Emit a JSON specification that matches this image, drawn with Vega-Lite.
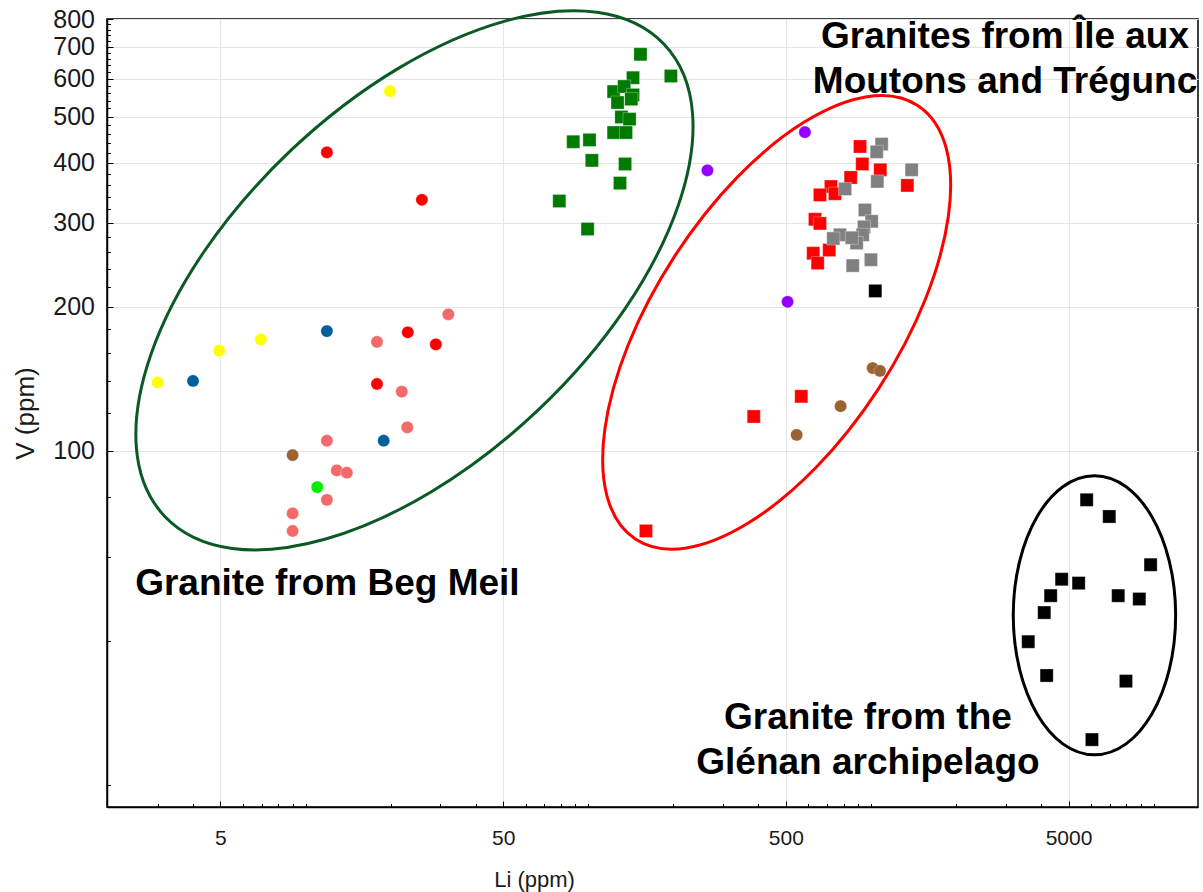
{
  "$schema": "https://vega.github.io/schema/vega-lite/v6.json",
  "width": 1091,
  "height": 788,
  "autosize": {"type": "none"},
  "padding": {"left": 107, "top": 19, "right": 5, "bottom": 85},
  "background": "white",
  "config": {"view": {"stroke": "#000", "strokeWidth": 1.5}, "font": "Liberation Sans"},
  "datasets": {
    "greenEllipse": [{"Li": 24.28, "V": 227.3}],
    "redEllipse": [{"Li": 464, "V": 185.7}],
    "blackEllipse": [{"Li": 6175, "V": 45.3}],
    "circles": [
      {"Li": 3.0, "V": 139, "group": "yellow"},
      {"Li": 4.95, "V": 162, "group": "yellow"},
      {"Li": 6.95, "V": 171, "group": "yellow"},
      {"Li": 19.9, "V": 565, "group": "yellow"},
      {"Li": 4.0, "V": 140, "group": "blue"},
      {"Li": 11.9, "V": 178, "group": "blue"},
      {"Li": 18.9, "V": 105, "group": "blue"},
      {"Li": 23.0, "V": 177, "group": "red"},
      {"Li": 28.9, "V": 167, "group": "red"},
      {"Li": 17.9, "V": 138, "group": "red"},
      {"Li": 11.9, "V": 421, "group": "red"},
      {"Li": 25.8, "V": 335, "group": "red"},
      {"Li": 17.9, "V": 169, "group": "salmon"},
      {"Li": 32.0, "V": 193, "group": "salmon"},
      {"Li": 21.9, "V": 133, "group": "salmon"},
      {"Li": 22.9, "V": 112, "group": "salmon"},
      {"Li": 11.9, "V": 105, "group": "salmon"},
      {"Li": 12.9, "V": 91, "group": "salmon"},
      {"Li": 14.0, "V": 90, "group": "salmon"},
      {"Li": 11.9, "V": 79, "group": "salmon"},
      {"Li": 9.0, "V": 74, "group": "salmon"},
      {"Li": 9.0, "V": 68, "group": "salmon"},
      {"Li": 9.0, "V": 98, "group": "brown"},
      {"Li": 1014, "V": 149, "group": "brown"},
      {"Li": 1076, "V": 147, "group": "brown"},
      {"Li": 781, "V": 124, "group": "brown"},
      {"Li": 546, "V": 108, "group": "brown"},
      {"Li": 11.0, "V": 84, "group": "lime"},
      {"Li": 264, "V": 386, "group": "purple"},
      {"Li": 584, "V": 464, "group": "purple"},
      {"Li": 507, "V": 205, "group": "purple"}
    ],
    "squares": [
      {"Li": 153, "V": 675, "group": "green"},
      {"Li": 196, "V": 608, "group": "green"},
      {"Li": 144, "V": 603, "group": "green"},
      {"Li": 123, "V": 564, "group": "green"},
      {"Li": 134, "V": 578, "group": "green"},
      {"Li": 144, "V": 555, "group": "green"},
      {"Li": 127, "V": 535, "group": "green"},
      {"Li": 142, "V": 544, "group": "green"},
      {"Li": 131, "V": 499, "group": "green"},
      {"Li": 140, "V": 494, "group": "green"},
      {"Li": 123, "V": 463, "group": "green"},
      {"Li": 136, "V": 463, "group": "green"},
      {"Li": 88.5, "V": 443, "group": "green"},
      {"Li": 101, "V": 447, "group": "green"},
      {"Li": 103, "V": 405, "group": "green"},
      {"Li": 135, "V": 398, "group": "green"},
      {"Li": 129.5, "V": 363, "group": "green"},
      {"Li": 79, "V": 333, "group": "green"},
      {"Li": 99.5, "V": 291, "group": "green"},
      {"Li": 915, "V": 433, "group": "red square"},
      {"Li": 932, "V": 398, "group": "red square"},
      {"Li": 1079, "V": 387, "group": "red square"},
      {"Li": 848, "V": 373, "group": "red square"},
      {"Li": 1345, "V": 359, "group": "red square"},
      {"Li": 722, "V": 357, "group": "red square"},
      {"Li": 660, "V": 343, "group": "red square"},
      {"Li": 746, "V": 345, "group": "red square"},
      {"Li": 634, "V": 305, "group": "red square"},
      {"Li": 660, "V": 299, "group": "red square"},
      {"Li": 625, "V": 259, "group": "red square"},
      {"Li": 712, "V": 263, "group": "red square"},
      {"Li": 648, "V": 247, "group": "red square"},
      {"Li": 567, "V": 130, "group": "red square"},
      {"Li": 385, "V": 118, "group": "red square"},
      {"Li": 160, "V": 68, "group": "red square"},
      {"Li": 1091, "V": 438, "group": "gray"},
      {"Li": 1048, "V": 422, "group": "gray"},
      {"Li": 1393, "V": 387, "group": "gray"},
      {"Li": 1053, "V": 366, "group": "gray"},
      {"Li": 810, "V": 353, "group": "gray"},
      {"Li": 952, "V": 319, "group": "gray"},
      {"Li": 1006, "V": 302, "group": "gray"},
      {"Li": 945, "V": 294, "group": "gray"},
      {"Li": 935, "V": 283, "group": "gray"},
      {"Li": 777, "V": 283, "group": "gray"},
      {"Li": 736, "V": 278, "group": "gray"},
      {"Li": 890, "V": 272, "group": "gray"},
      {"Li": 856, "V": 279, "group": "gray"},
      {"Li": 1000, "V": 251, "group": "gray"},
      {"Li": 862, "V": 244, "group": "gray"},
      {"Li": 1036, "V": 216, "group": "black"},
      {"Li": 5794, "V": 79, "group": "black"},
      {"Li": 6966, "V": 72.9, "group": "black"},
      {"Li": 9755, "V": 57.8, "group": "black"},
      {"Li": 4727, "V": 53.9, "group": "black"},
      {"Li": 5428, "V": 52.9, "group": "black"},
      {"Li": 4322, "V": 49.8, "group": "black"},
      {"Li": 7493, "V": 49.8, "group": "black"},
      {"Li": 8897, "V": 49.0, "group": "black"},
      {"Li": 4102, "V": 45.9, "group": "black"},
      {"Li": 3601, "V": 39.9, "group": "black"},
      {"Li": 4183, "V": 33.9, "group": "black"},
      {"Li": 7980, "V": 33.0, "group": "black"},
      {"Li": 6050, "V": 24.9, "group": "black"}
    ],
    "labels": [
      {"label": "Granites from Île aux", "Li": 2980, "V": 735},
      {"label": "Moutons and Trégunc", "Li": 2980, "V": 592},
      {"label": "Granite from Beg Meil", "Li": 11.95, "V": 52.7},
      {"label": "Granite from the", "Li": 976, "V": 27.65},
      {"label": "Glénan archipelago", "Li": 976, "V": 22.27}
    ]
  },
  "layer": [
    {
      "data": {"name": "greenEllipse"},
      "mark": {
        "type": "point",
        "shape": "M 1 0 C 1 0.2882 0.5523 0.5218 0 0.5218 C -0.5523 0.5218 -1 0.2882 -1 0 C -1 -0.2882 -0.5523 -0.5218 0 -0.5218 C 0.5523 -0.5218 1 -0.2882 1 0 Z",
        "size": 472244,
        "angle": 316.65,
        "filled": false,
        "stroke": "#0b5a26",
        "strokeWidth": 3,
        "opacity": 1
      },
      "encoding": {
        "x": {"field": "Li", "type": "quantitative", "scale": {"type": "log", "domain": [1.985, 14350], "nice": false, "zero": false},
          "axis": {"orient": "bottom", "values": [3,4,6,7,8,9,10,20,30,40,60,70,80,90,100,200,300,400,600,700,800,900,1000,2000,3000,4000,6000,7000,8000,9000,10000], "labels": false, "domain": false, "grid": false, "ticks": true, "tickSize": -3.5, "tickColor": "#000", "tickWidth": 1, "title": null}},
        "y": {"field": "V", "type": "quantitative", "scale": {"type": "log", "domain": [18, 800], "nice": false, "zero": false},
          "axis": {"orient": "left", "values": [20,40,60,80,120,140,160,180,220,240,260,280,320,340,360,380,420,440,460,480,520,540,560,580,620,640,660,680,720,740,760,780], "labels": false, "domain": false, "grid": false, "ticks": true, "tickSize": -3.5, "tickColor": "#000", "tickWidth": 1, "title": null}}
      }
    },
    {
      "data": {"name": "redEllipse"},
      "mark": {
        "type": "point",
        "shape": "M 1 0 C 1 0.2596 0.5523 0.47 0 0.47 C -0.5523 0.47 -1 0.2596 -1 0 C -1 -0.2596 -0.5523 -0.47 0 -0.47 C 0.5523 -0.47 1 -0.2596 1 0 Z",
        "size": 267703,
        "angle": 303.02,
        "filled": false,
        "stroke": "#ff0000",
        "strokeWidth": 3,
        "opacity": 1
      },
      "encoding": {
        "x": {"field": "Li", "type": "quantitative", "scale": {"type": "log", "domain": [1.985, 14350], "nice": false, "zero": false},
          "axis": {"orient": "bottom", "values": [5, 50, 500, 5000], "labels": false, "domain": false, "grid": false, "ticks": true, "tickSize": -6, "tickColor": "#000", "tickWidth": 1, "title": null}},
        "y": {"field": "V", "type": "quantitative", "scale": {"type": "log", "domain": [18, 800], "nice": false, "zero": false},
          "axis": {"orient": "left", "values": [100, 200, 300, 400, 500, 600, 700, 800], "labels": false, "domain": false, "grid": false, "ticks": true, "tickSize": -6, "tickColor": "#000", "tickWidth": 1, "title": null}}
      }
    },
    {
      "data": {"name": "blackEllipse"},
      "mark": {
        "type": "point",
        "shape": "M 0.582 0 C 0.582 0.5523 0.3214 1 0 1 C -0.3214 1 -0.582 0.5523 -0.582 0 C -0.582 -0.5523 -0.3214 -1 0 -1 C 0.3214 -1 0.582 -0.5523 0.582 0 Z",
        "size": 77841,
        "angle": 0,
        "filled": false,
        "stroke": "#000000",
        "strokeWidth": 3,
        "opacity": 1
      },
      "encoding": {
        "x": {"field": "Li", "type": "quantitative", "scale": {"type": "log", "domain": [1.985, 14350], "nice": false, "zero": false}, "axis": null},
        "y": {"field": "V", "type": "quantitative", "scale": {"type": "log", "domain": [18, 800], "nice": false, "zero": false}, "axis": null}
      }
    },
    {
      "data": {"name": "circles"},
      "mark": {"type": "point", "shape": "circle", "filled": true, "size": 150, "opacity": 1, "stroke": "#ffffff", "strokeWidth": 0.6, "strokeOpacity": 0.5},
      "encoding": {
        "x": {"field": "Li", "type": "quantitative", "scale": {"type": "log", "domain": [1.985, 14350], "nice": false, "zero": false},
          "axis": {"orient": "bottom", "values": [5, 50, 500, 5000], "format": "d", "ticks": false, "grid": true, "gridColor": "#e4e4e4", "gridWidth": 1, "domain": true, "domainColor": "#000", "domainWidth": 1.5, "labelFont": "Liberation Sans", "labelFontSize": 21, "labelColor": "#1a1a1a", "labelBaseline": "middle", "labelPadding": 31, "labelFlush": false, "labelOverlap": false, "title": "Li (ppm)", "titleFont": "Liberation Sans", "titleFontSize": 22, "titleFontWeight": "normal", "titleColor": "#1a1a1a", "titleX": 427, "titleY": 79, "titleBaseline": "alphabetic", "titleAlign": "center"}},
        "y": {"field": "V", "type": "quantitative", "scale": {"type": "log", "domain": [18, 800], "nice": false, "zero": false},
          "axis": {"orient": "left", "values": [100, 200, 300, 400, 500, 600, 700, 800], "format": "d", "ticks": false, "grid": true, "gridColor": "#e4e4e4", "gridWidth": 1, "domain": true, "domainColor": "#000", "domainWidth": 1.5, "labelFont": "Liberation Sans", "labelFontSize": 25, "labelColor": "#1a1a1a", "labelPadding": 12.5, "labelFlush": false, "labelOverlap": false, "title": "V (ppm)", "titleFont": "Liberation Sans", "titleFontSize": 26, "titleFontWeight": "normal", "titleColor": "#1a1a1a", "titleX": -74, "titleY": 394, "titleBaseline": "alphabetic", "titleAlign": "center", "titleAngle": 270}},
        "color": {"field": "group", "type": "nominal", "legend": null,
          "scale": {"domain": ["yellow", "blue", "red", "salmon", "brown", "lime", "purple", "green", "red square", "gray", "black"],
                    "range": ["#ffff00", "#00609c", "#ff0000", "#f46a6a", "#9b6332", "#00f000", "#9400ff", "#007b00", "#ff0000", "#808080", "#000000"]}}
      }
    },
    {
      "data": {"name": "squares"},
      "mark": {"type": "point", "shape": "square", "filled": true, "size": 172, "opacity": 1, "stroke": "#ffffff", "strokeWidth": 0.6, "strokeOpacity": 0.5},
      "encoding": {
        "x": {"field": "Li", "type": "quantitative", "scale": {"type": "log", "domain": [1.985, 14350], "nice": false, "zero": false}, "axis": null},
        "y": {"field": "V", "type": "quantitative", "scale": {"type": "log", "domain": [18, 800], "nice": false, "zero": false}, "axis": null},
        "color": {"field": "group", "type": "nominal", "legend": null}
      }
    },
    {
      "data": {"name": "labels"},
      "mark": {"type": "text", "font": "Liberation Sans", "fontSize": 37, "fontWeight": "bold", "align": "center", "baseline": "middle", "color": "#000"},
      "encoding": {
        "x": {"field": "Li", "type": "quantitative", "scale": {"type": "log", "domain": [1.985, 14350], "nice": false, "zero": false}, "axis": null},
        "y": {"field": "V", "type": "quantitative", "scale": {"type": "log", "domain": [18, 800], "nice": false, "zero": false}, "axis": null},
        "text": {"field": "label", "type": "nominal"}
      }
    }
  ],
  "resolve": {"axis": {"x": "independent", "y": "independent"}}
}
